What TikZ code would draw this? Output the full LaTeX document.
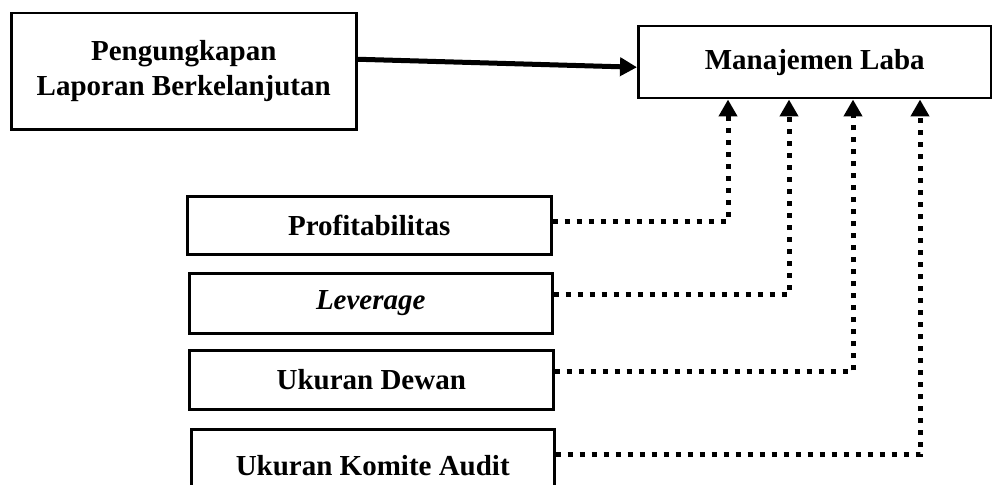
\documentclass[tikz,border=0pt]{standalone}
\usepackage{fontspec}
\setmainfont{Liberation Serif}
\usetikzlibrary{arrows.meta,calc}
\begin{document}
\begin{tikzpicture}[x=1pt,y=-1pt,
  box/.style={draw,line width=2.5pt,inner sep=0pt,anchor=north west,align=center,
    font=\fontsize{29}{35}\selectfont\bfseries},
  dotline/.style={line width=5pt,line cap=butt,dash pattern=on 5pt off 7pt,
    -{Triangle[length=17pt,width=18pt]}},
  solidarrow/.style={line width=5pt,-{Triangle[length=17pt,width=18pt]}}]
\clip (0,0) rectangle (992,484);
\fill[white] (0,0) rectangle (992,484);
\node[box,minimum width=345pt,minimum height=116pt] (b) at (10,12) {Pengungkapan\\Laporan Berkelanjutan};
\node[box,minimum width=353pt,minimum height=72pt] (m) at (637,25) {Manajemen Laba};
\node[box,minimum width=364pt,minimum height=58pt] (p) at (186,195) {Profitabilitas};
\node[box,minimum width=363pt,minimum height=60pt] (l) at (188,272) {\itshape Leverage};
\node[box,minimum width=364pt,minimum height=59pt] (d) at (188,349) {Ukuran Dewan};
\node[box,minimum width=363pt,minimum height=72pt] (k) at (190,428) {Ukuran Komite Audit};
\draw[solidarrow] ([yshift=12pt]b.east) -- ([yshift=-5pt]m.west);
\draw[dotline] ([yshift=4pt]p.east) -| ($(m.south west)+(91,0)$);
\draw[dotline] ([yshift=9pt]l.east) -| ($(m.south west)+(152,0)$);
\draw[dotline] ([yshift=8pt]d.east) -| ($(m.south west)+(216,0)$);
\draw[dotline] ([yshift=11pt]k.east) -| ($(m.south west)+(283,0)$);
\end{tikzpicture}
\end{document}
